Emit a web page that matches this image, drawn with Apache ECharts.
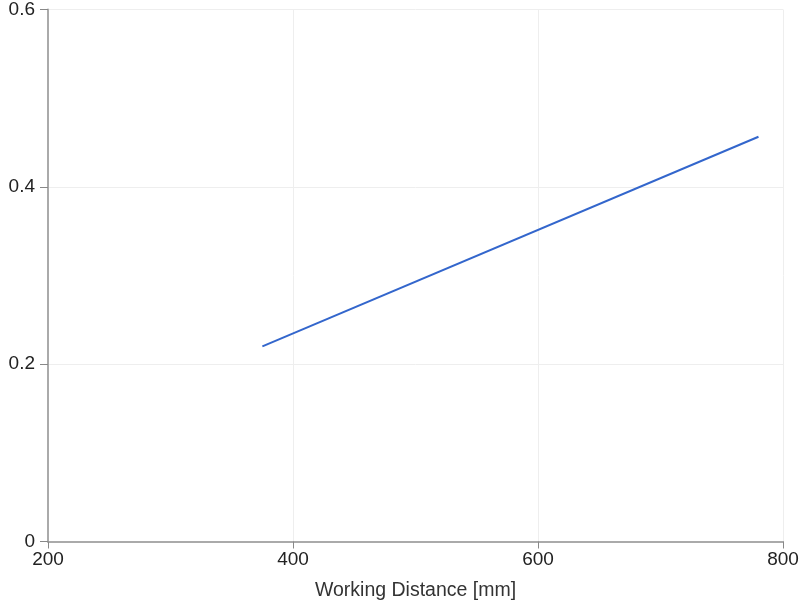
<!DOCTYPE html>
<html><head><meta charset="utf-8">
<script src="https://cdn.jsdelivr.net/npm/echarts@6/dist/echarts.min.js"></script>
<style>html,body{margin:0;padding:0;background:#fff}#c{width:800px;height:602px}</style>
</head><body><div id="c"></div>
<script>
const workingDistance = [375, 780];
const values = [0.22, 0.4565];
const xTicks = [200, 400, 600, 800];
const yTicks = [0, 0.2, 0.4, 0.6];

const chart = echarts.init(document.getElementById('c'), null, {renderer:'canvas'});
const axisLine = {show:true, lineStyle:{color:'#aaa', width:2}};
const font = {fontFamily:'Liberation Sans, Arial, sans-serif', fontSize:19, color:'#222'};
chart.setOption({
  animation:false,
  grid:{left:48, right:17, top:9.5, bottom:60.5, containLabel:false, outerBoundsMode:'none'},
  xAxis:{type:'value', min:xTicks[0], max:xTicks[xTicks.length-1], interval:200,
    name:'Working Distance [mm]', nameLocation:'middle', nameGap:39,
    nameTextStyle:Object.assign({}, font, {color:'#333', fontSize:19.5}),
    axisLine:axisLine, axisTick:{show:true, length:7, lineStyle:{color:'#888', width:1}},
    axisLabel:Object.assign({margin:9}, font),
    splitLine:{show:true, lineStyle:{color:'#eee', width:1}}},
  yAxis:{type:'value', min:yTicks[0], max:yTicks[yTicks.length-1], interval:0.2,
    axisLine:axisLine, axisTick:{show:true, length:8, lineStyle:{color:'#888', width:1}},
    axisLabel:Object.assign({margin:13}, font),
    splitLine:{show:true, lineStyle:{color:'#eee', width:1}}},
  series:[{type:'line', data:workingDistance.map((x,i)=>[x, values[i]]),
    showSymbol:false, lineStyle:{color:'#3366cc', width:2}, itemStyle:{color:'#3366cc'}}]
});
</script></body></html>
